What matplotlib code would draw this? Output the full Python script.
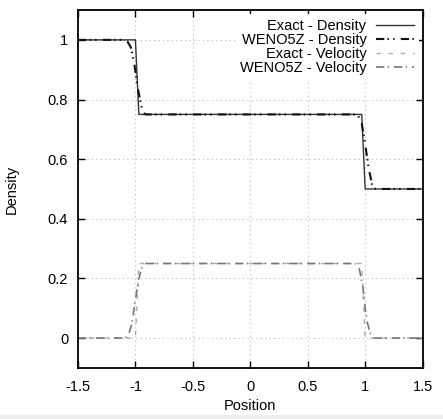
import matplotlib
matplotlib.use("Agg")
import matplotlib.pyplot as plt
from matplotlib.patches import Rectangle

plt.rcParams['font.family'] = ['Liberation Sans', 'DejaVu Sans']

# Exact solution (piecewise constant states)
exact_x = [-1.5, -1.0, -0.97, 0.97, 1.0, 1.5]
exact_density = [1.0, 1.0, 0.75, 0.75, 0.5, 0.5]
exact_velocity = [0.0, 0.0, 0.25, 0.25, 0.0, 0.0]

# WENO5Z numerical solution
weno_rho_x = [-1.5, -1.1, -1.07, -1.04, -1.01, -0.98, -0.95, -0.93, -0.91,
              0.91, 0.94, 0.97, 1.0, 1.03, 1.06, 1.09, 1.5]
weno_density = [1.0, 1.0, 0.995, 0.975, 0.92, 0.84, 0.78, 0.755, 0.75,
                0.75, 0.745, 0.72, 0.65, 0.57, 0.515, 0.5, 0.5]
weno_vel_x = [-1.5, -1.09, -1.06, -1.03, -1.0, -0.97, -0.94, -0.92, -0.9,
              0.9, 0.92, 0.95, 0.98, 1.0, 1.02, 1.05, 1.08, 1.5]
weno_velocity = [0.0, 0.0, 0.01, 0.05, 0.13, 0.2, 0.24, 0.25, 0.25,
                 0.25, 0.248, 0.23, 0.17, 0.1, 0.05, 0.01, 0.0, 0.0]

xticks = [-1.5, -1, -0.5, 0, 0.5, 1, 1.5]
xticklabels = ["-1.5", "-1", "-0.5", "0", "0.5", "1", "1.5"]
yticks = [0, 0.2, 0.4, 0.6, 0.8, 1]
yticklabels = ["0", "0.2", "0.4", "0.6", "0.8", "1"]

FS = 10.5

fig = plt.figure(figsize=(4.43, 4.19), dpi=100)
# thin light strip along the bottom edge
fig.patches.append(Rectangle((0, 0), 1, 4 / 419, transform=fig.transFigure,
                             facecolor="#eeeeee", edgecolor="none", zorder=-1))
ax = fig.add_axes([0.176, 0.122, 0.778, 0.854])

ax.plot(exact_x, exact_density, color="#333333", lw=1.0, ls="-",
        label="Exact - Density")
ax.plot(weno_rho_x, weno_density, color="#111111", lw=1.5,
        ls=(0, (4, 1.5, 0.7, 2, 0.7, 3)), label="WENO5Z - Density")
ax.plot(exact_x, exact_velocity, color="#aaaaaa", lw=1.0, ls=(0, (3.2, 5.5)),
        label="Exact - Velocity")
ax.plot(weno_vel_x, weno_velocity, color="#777777", lw=1.2,
        ls=(0, (5, 2, 0.8, 3)), label="WENO5Z - Velocity")

ax.set_xlim(-1.5, 1.5)
ax.set_ylim(-0.1, 1.1)
ax.set_xticks(xticks)
ax.set_xticklabels(xticklabels)
ax.set_yticks(yticks)
ax.set_yticklabels(yticklabels)
ax.tick_params(direction="in", top=True, right=True, length=5, width=1,
               labelsize=FS, colors="black")
ax.tick_params(axis="x", pad=9)
ax.tick_params(axis="y", pad=7)
ax.grid(True, ls=(0, (1, 3)), color="#bbbbbb", lw=0.8)
for s in ax.spines.values():
    s.set_linewidth(1.3)

ax.set_xlabel("Position", fontsize=FS, labelpad=3)
ax.set_ylabel("Density", fontsize=FS, labelpad=21)

leg = ax.legend(loc="upper right", markerfirst=False, frameon=True,
                fontsize=FS, handlelength=2.6, labelspacing=0.0,
                borderaxespad=0.25, handletextpad=0.65, borderpad=0.35)
leg.get_frame().set_edgecolor("none")
leg.get_frame().set_facecolor("white")
leg.get_frame().set_alpha(1)
for t in leg.get_texts():
    t.set_ha("right")
leg._legend_box.align = "right"

fig.savefig("out.png", dpi=100)
